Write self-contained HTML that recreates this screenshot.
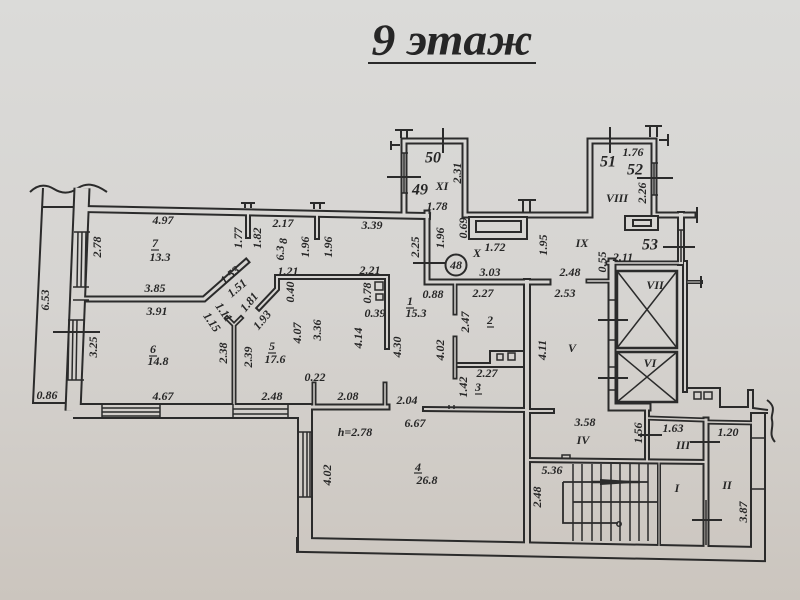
<!DOCTYPE html>
<html><head><meta charset="utf-8">
<style>
html,body{margin:0;padding:0;width:800px;height:600px;overflow:hidden;background:#d6d4d0}
svg{display:block}
text{font-family:"Liberation Serif","DejaVu Serif",serif;font-style:italic;font-weight:bold;fill:#262626;font-size:12px;text-anchor:middle;dominant-baseline:central}
.rn{font-size:16px}
</style></head><body>
<svg width="800" height="600" viewBox="0 0 800 600" xmlns="http://www.w3.org/2000/svg">
<defs>
<linearGradient id="bg" gradientUnits="userSpaceOnUse" x1="0" y1="0" x2="0" y2="600">
<stop offset="0" stop-color="#dbdbd9"/>
<stop offset="0.5" stop-color="#d6d4d1"/>
<stop offset="1" stop-color="#cbc5be"/>
</linearGradient>
</defs>
<rect width="800" height="600" fill="url(#bg)"/>

<!-- title -->
<text x="452" y="40" style="font-size:44px" textLength="161" lengthAdjust="spacingAndGlyphs">9 этаж</text>
<line x1="368" y1="63" x2="536" y2="63" stroke="#2a2a2a" stroke-width="2"/>

<!-- thin single lines -->
<g fill="none" stroke="#2b2b2b" stroke-width="2">
<path d="M43 188 L33 403 L65 403"/>
<path d="M43 207 L74 207"/>
<path d="M30 192 C38 184 46 184 54 189 C62 194 70 194 78 188 C86 183 94 183 107 192"/>
<path d="M297 537 L297 553"/>
<path d="M765 428 L765 560"/>
<path d="M767 400 C778 408 770 414 772 420 C774 428 768 434 775 442"/>
<path d="M688 388 L720 388 L720 407 L748 407 L748 390 L753 390 L753 408 L768 410"/>
<path d="M750 413 L768 413"/>
</g>

<!-- walls outer strokes -->
<g fill="none" stroke="#2b2b2b" stroke-linejoin="miter" stroke-linecap="square">
<path d="M82 188 L73 411" stroke-width="17" stroke-linecap="butt"/>
<path d="M73 411 L305 411 L305 545 L758 554 L758 414" stroke-width="16" stroke-linecap="butt"/>
<path d="M82 209 L427 216" stroke-width="8"/>
<path d="M427 213 L427 282 L548 282" stroke-width="7"/>
<path d="M404 214 L404 141 L465 141 L465 215 L590 215 L590 141 L654 141 L654 215 L693 215" stroke-width="7"/>
<path d="M82 299 L204 299 L246 262" stroke-width="7"/>
<path d="M234 326 L234 411" stroke-width="5"/>
<path d="M227 318 L234 325 L241 318" stroke-width="5"/>
<path d="M259 308 L277 289 L277 277 L387 277 L387 347" stroke-width="6"/>
<path d="M248 213 L248 236" stroke-width="6"/>
<path d="M317 214 L317 237" stroke-width="6"/>
<path d="M305 407 L387 407" stroke-width="7"/>
<path d="M314 407 L314 384" stroke-width="5"/>
<path d="M385 407 L385 384" stroke-width="5"/>
<path d="M425 409 L527 410" stroke-width="6"/>
<path d="M455 282 L455 313" stroke-width="5"/>
<path d="M455 338 L455 377" stroke-width="5"/>
<path d="M527 282 L527 545" stroke-width="8"/>
<path d="M527 411 L552 411" stroke-width="6"/>
<path d="M588 281 L612 281" stroke-width="5"/>
<path d="M612 262 L612 407 L647 407" stroke-width="9"/>
<path d="M608 263 L682 263" stroke-width="5"/>
<path d="M681 215 L681 262" stroke-width="8"/>
<path d="M685 263 L685 390" stroke-width="6"/>
<path d="M688 282 L701 282" stroke-width="4"/>
<path d="M647 407 L647 460" stroke-width="6"/>
<path d="M527 460 L706 462" stroke-width="6"/>
<path d="M647 418 L706 420" stroke-width="5"/>
<path d="M706 422 L758 423" stroke-width="5"/>
<path d="M706 420 L706 549" stroke-width="7"/>
<path d="M659 462 L659 547" stroke-width="4"/>
</g>
<!-- walls inner overlay -->
<g fill="none" stroke="url(#bg)" stroke-linejoin="miter" stroke-linecap="square">
<path d="M82 188 L73 411" stroke-width="13" stroke-linecap="butt"/>
<path d="M73 411 L305 411 L305 545 L758 554 L758 414" stroke-width="12" stroke-linecap="butt"/>
<path d="M82 209 L427 216" stroke-width="4"/>
<path d="M427 213 L427 282 L548 282" stroke-width="3"/>
<path d="M404 214 L404 141 L465 141 L465 215 L590 215 L590 141 L654 141 L654 215 L693 215" stroke-width="3"/>
<path d="M82 299 L204 299 L246 262" stroke-width="3"/>
<path d="M234 326 L234 411" stroke-width="1.5"/>
<path d="M227 318 L234 325 L241 318" stroke-width="1.5"/>
<path d="M259 308 L277 289 L277 277 L387 277 L387 347" stroke-width="2"/>
<path d="M248 213 L248 236" stroke-width="2"/>
<path d="M317 214 L317 237" stroke-width="2"/>
<path d="M305 407 L387 407" stroke-width="3"/>
<path d="M314 407 L314 384" stroke-width="1.5"/>
<path d="M385 407 L385 384" stroke-width="1.5"/>
<path d="M425 409 L527 410" stroke-width="2"/>
<path d="M455 282 L455 313" stroke-width="1.5"/>
<path d="M455 338 L455 377" stroke-width="1.5"/>
<path d="M527 282 L527 545" stroke-width="4"/>
<path d="M527 411 L552 411" stroke-width="2"/>
<path d="M588 281 L612 281" stroke-width="1.5"/>
<path d="M612 262 L612 407 L647 407" stroke-width="5"/>
<path d="M608 263 L682 263" stroke-width="1.5"/>
<path d="M681 215 L681 262" stroke-width="4"/>
<path d="M685 263 L685 390" stroke-width="2"/>
<path d="M688 282 L701 282" stroke-width="1"/>
<path d="M647 407 L647 460" stroke-width="2"/>
<path d="M527 460 L706 462" stroke-width="2"/>
<path d="M647 418 L706 420" stroke-width="1.5"/>
<path d="M706 422 L758 423" stroke-width="1.5"/>
<path d="M706 420 L706 549" stroke-width="3"/>
<path d="M659 462 L659 547" stroke-width="1"/>
</g>

<!-- details -->
<g fill="none" stroke="#2b2b2b" stroke-width="2">
<!-- vent boxes -->
<rect x="469" y="217" width="58" height="22" fill="url(#bg)"/>
<rect x="476" y="221" width="45" height="11"/>
<rect x="625" y="216" width="33" height="14" fill="url(#bg)"/>
<rect x="633" y="220" width="18" height="6"/>
<!-- caps -->
<path d="M395 130 L413 130 M401 130 L401 138 M407 130 L407 138"/>
<path d="M391 141 L391 150 M391 145 L400 145"/>
<path d="M443 128 L443 153"/>
<path d="M387 177 L421 177"/>
<path d="M645 126 L662 126 M650 126 L650 137 M657 126 L657 137"/>
<path d="M659 140 L668 140 M668 134 L668 146"/>
<path d="M610 127 L610 153"/>
<path d="M637 178 L673 178"/>
<path d="M697 207 L697 223"/>
<path d="M663 247 L695 247"/>
<path d="M701 276 L701 288"/>
<path d="M518 200 L536 200 M523 200 L523 212 M530 200 L530 212"/>
<path d="M241 203 L255 203 M245 203 L245 208 M251 203 L251 208"/>
<path d="M310 203 L325 203 M314 203 L314 209 M320 203 L320 209"/>
<path d="M598 320 L628 320 M598 378 L628 378"/>
<path d="M53 332 L100 332"/>
<path d="M413 263 L445 263"/>
<circle cx="456" cy="265" r="10.5" fill="url(#bg)"/>
<!-- elevators -->
<rect x="617" y="271" width="60" height="77" stroke-width="2.5"/>
<rect x="617" y="352" width="60" height="50" stroke-width="2.5"/>
<path d="M617 271 L677 348 M677 271 L617 348 M617 352 L677 402 M677 352 L617 402" stroke-width="1.5"/>
<rect x="694" y="392" width="7" height="7" stroke-width="1.5"/>
<rect x="704" y="392" width="8" height="7" stroke-width="1.5"/>
<!-- room 5 squares & room 2 -->
<rect x="375" y="282" width="8" height="8" stroke-width="1.5"/>
<rect x="376" y="294" width="7" height="6" stroke-width="1.5"/>
<path d="M457 363 L490 363 L490 351 L525 351"/>
<path d="M457 367 L525 367"/>
<rect x="497" y="354" width="6" height="6" stroke-width="1.5"/>
<rect x="508" y="353" width="7" height="7" stroke-width="1.5"/>
<path d="M449 405 L449 409 M454 405 L454 409" stroke-width="1.5"/>
<path d="M562 458 L562 455 L570 455 L570 458" stroke-width="1.5"/>
<!-- windows -->
<path d="M78 232 L77 287 M82 232 L81 287 M86 232 L85 287 M74 232 L90 232 M73 287 L89 287" stroke-width="1.5"/>
<path d="M73 300 L89 300" stroke-width="1.5"/>
<path d="M69 320 L68 380 M73 320 L72 380 M77 320 L76 380 M68 320 L85 320 M67 380 L84 380" stroke-width="1.5"/>
<path d="M102 404 L102 418 M160 404 L160 418 M102 408 L160 408 M102 412 L160 412 M102 416 L160 416" stroke-width="1.5"/>
<path d="M233 404 L233 418 M288 404 L288 418 M233 409 L288 409 M233 414 L288 414" stroke-width="1.5"/>
<path d="M298 432 L313 432 M298 497 L313 497 M303 432 L303 497 M307 432 L307 497 M310 432 L310 497" stroke-width="1.5"/>
<path d="M404 153 L404 193 M401 153 L408 153 M401 193 L408 193" stroke-width="1.5"/>
<path d="M654 163 L654 195 M651 163 L658 163 M651 195 L658 195" stroke-width="1.5"/>
<path d="M681 230 L681 262 M677 230 L685 230" stroke-width="1.5"/>
<path d="M608 300 L617 300 M608 340 L617 340 M608 367 L617 367 M608 390 L617 390" stroke-width="1.5"/>
<path d="M750 438 L765 438 M750 489 L765 489" stroke-width="1.5"/>
<path d="M706 500 L706 545" stroke-width="1.5"/>
<!-- crosses -->
<path d="M638 435 L662 435 M690 442 L720 442 M692 520 L722 520"/>
<!-- stairs -->
<path d="M573 464 L573 541 M582 464 L582 541 M592 464 L592 541 M601 464 L601 541 M611 464 L611 541 M620 464 L620 541 M630 464 L630 541 M639 464 L639 541 M648 464 L648 541" stroke-width="1.5"/>
<path d="M563 482 L648 482 M563 482 L563 523 L618 523 M573 502 L657 502" stroke-width="1.8"/>
<path d="M592 482 L640 482" stroke-width="2.5"/>
<circle cx="619" cy="524" r="2.2" stroke-width="1.5"/>
</g>
<polygon points="600,479 648,482 600,485" fill="#2b2b2b"/>

<!-- number underlines -->
<g stroke="#2b2b2b" stroke-width="1.2">
<line x1="151" y1="250" x2="159" y2="250"/>
<line x1="149" y1="356" x2="157" y2="356"/>
<line x1="268" y1="353" x2="276" y2="353"/>
<line x1="406" y1="308" x2="414" y2="308"/>
<line x1="414" y1="473" x2="422" y2="473"/>
<line x1="487" y1="327" x2="494" y2="327"/>
<line x1="475" y1="394" x2="482" y2="394"/>
</g>

<!-- labels -->
<text x="45" y="300" transform="rotate(-90 45 300)">6.53</text>
<text x="97" y="247" transform="rotate(-90 97 247)">2.78</text>
<text x="163" y="220">4.97</text>
<text x="155" y="243">7</text>
<text x="160" y="257">13.3</text>
<text x="238" y="238" transform="rotate(-90 238 238)">1.77</text>
<text x="257" y="238" transform="rotate(-90 257 238)">1.82</text>
<text x="283" y="223">2.17</text>
<text x="283" y="241" transform="rotate(-90 283 241)">8</text>
<text x="280" y="253" transform="rotate(-90 280 253)">6.3</text>
<text x="305" y="247" transform="rotate(-90 305 247)">1.96</text>
<text x="328" y="247" transform="rotate(-90 328 247)">1.96</text>
<text x="372" y="225">3.39</text>
<text x="230" y="275" transform="rotate(-40 230 275)">1.53</text>
<text x="155" y="288">3.85</text>
<text x="237" y="288" transform="rotate(-40 237 288)">1.51</text>
<text x="288" y="271">1.21</text>
<text x="370" y="270">2.21</text>
<text x="367" y="293" transform="rotate(-90 367 293)">0.78</text>
<text x="290" y="292" transform="rotate(-90 290 292)">0.40</text>
<text x="157" y="311">3.91</text>
<text x="224" y="312" transform="rotate(55 224 312)">1.11</text>
<text x="249" y="302" transform="rotate(-50 249 302)">1.81</text>
<text x="212" y="322" transform="rotate(55 212 322)">1.15</text>
<text x="262" y="320" transform="rotate(-50 262 320)">1.93</text>
<text x="375" y="313">0.39</text>
<text x="297" y="333" transform="rotate(-90 297 333)">4.07</text>
<text x="317" y="330" transform="rotate(-90 317 330)">3.36</text>
<text x="358" y="338" transform="rotate(-90 358 338)">4.14</text>
<text x="93" y="347" transform="rotate(-90 93 347)">3.25</text>
<text x="153" y="349">6</text>
<text x="158" y="361">14.8</text>
<text x="223" y="353" transform="rotate(-90 223 353)">2.38</text>
<text x="248" y="357" transform="rotate(-90 248 357)">2.39</text>
<text x="272" y="346">5</text>
<text x="275" y="359">17.6</text>
<text x="315" y="377">0.22</text>
<text x="47" y="395">0.86</text>
<text x="163" y="396">4.67</text>
<text x="272" y="396">2.48</text>
<text x="348" y="396">2.08</text>
<text x="397" y="347" transform="rotate(-90 397 347)">4.30</text>
<text x="410" y="301">1</text>
<text x="416" y="313">15.3</text>
<text x="407" y="400">2.04</text>
<text x="433" y="294">0.88</text>
<text x="483" y="293">2.27</text>
<text x="490" y="320">2</text>
<text x="465" y="322" transform="rotate(-90 465 322)">2.47</text>
<text x="440" y="350" transform="rotate(-90 440 350)">4.02</text>
<text x="487" y="373">2.27</text>
<text x="463" y="387" transform="rotate(-90 463 387)">1.42</text>
<text x="478" y="387">3</text>
<text class="rn" x="433" y="158">50</text>
<text x="457" y="173" transform="rotate(-90 457 173)">2.31</text>
<text class="rn" x="420" y="190">49</text>
<text x="442" y="186">XI</text>
<text x="437" y="206">1.78</text>
<text x="463" y="228" transform="rotate(-90 463 228)">0.69</text>
<text x="415" y="247" transform="rotate(-90 415 247)">2.25</text>
<text x="440" y="238" transform="rotate(-90 440 238)">1.96</text>
<text x="477" y="253">X</text>
<text x="495" y="247">1.72</text>
<text x="543" y="245" transform="rotate(-90 543 245)">1.95</text>
<text x="582" y="243">IX</text>
<text x="456" y="265">48</text>
<text x="490" y="272">3.03</text>
<text x="570" y="272">2.48</text>
<text x="602" y="262" transform="rotate(-90 602 262)">0.55</text>
<text x="623" y="257">2.11</text>
<text class="rn" x="650" y="245">53</text>
<text class="rn" x="608" y="162">51</text>
<text x="633" y="152">1.76</text>
<text class="rn" x="635" y="170">52</text>
<text x="617" y="198">VIII</text>
<text x="642" y="193" transform="rotate(-90 642 193)">2.26</text>
<text x="655" y="285">VII</text>
<text x="650" y="363">VI</text>
<text x="565" y="293">2.53</text>
<text x="542" y="350" transform="rotate(-90 542 350)">4.11</text>
<text x="572" y="348">V</text>
<text x="355" y="432">h=2.78</text>
<text x="415" y="423">6.67</text>
<text x="327" y="475" transform="rotate(-90 327 475)">4.02</text>
<text x="418" y="467">4</text>
<text x="427" y="480">26.8</text>
<text x="585" y="422">3.58</text>
<text x="583" y="440">IV</text>
<text x="638" y="433" transform="rotate(-90 638 433)">1.56</text>
<text x="673" y="428">1.63</text>
<text x="683" y="445">III</text>
<text x="728" y="432">1.20</text>
<text x="552" y="470">5.36</text>
<text x="537" y="497" transform="rotate(-90 537 497)">2.48</text>
<text x="677" y="488">I</text>
<text x="727" y="485">II</text>
<text x="743" y="512" transform="rotate(-90 743 512)">3.87</text>
</svg>
</body></html>
